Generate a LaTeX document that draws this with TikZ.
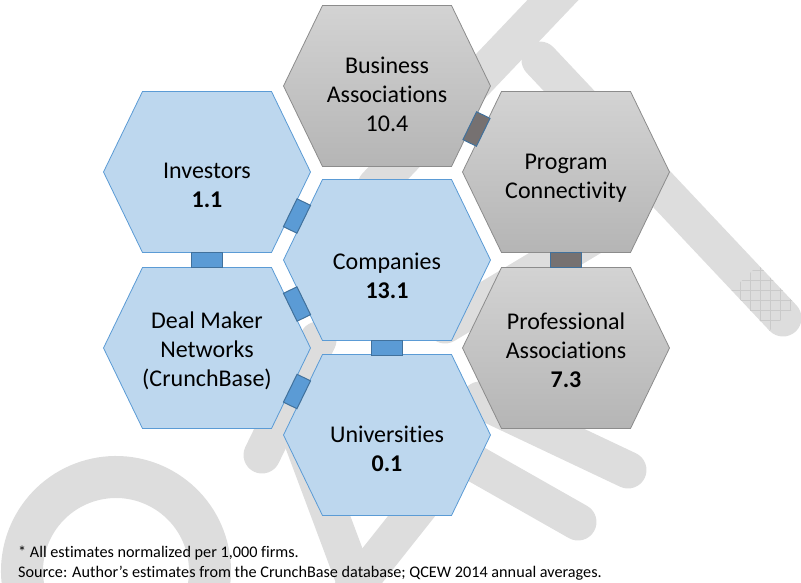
\documentclass[tikz,border=0pt]{standalone}
\usepackage{fontspec}
\setmainfont{Carlito}[Ligatures=NoCommon]
\usetikzlibrary{calc}

\definecolor{hexblue}{HTML}{BDD7EE}
\definecolor{hexblueline}{HTML}{5B9BD5}
\definecolor{linkblue}{HTML}{5B9BD5}
\definecolor{linkline}{HTML}{41719C}
\definecolor{hexgraytop}{HTML}{D3D3D3}
\definecolor{hexgraybot}{HTML}{B5B5B5}
\definecolor{hexgrayline}{HTML}{8C8C8C}
\definecolor{linkgray}{HTML}{767171}
\definecolor{wmark}{HTML}{DDDDDD}
\definecolor{wmgrid}{HTML}{CACACA}

\tikzset{
  wm/.style={draw=wmark, line width=37pt, line cap=round},
  bluehex/.style={fill=hexblue, draw=hexblueline, line width=0.8pt},
  grayhex/.style={top color=hexgraytop, bottom color=hexgraybot, draw=hexgrayline, line width=0.8pt},
  label/.style={align=center, font=\fontsize{24}{29}\selectfont},
  link/.style={draw=linkline, line width=1pt, minimum width=31pt, minimum height=15pt, inner sep=0pt},
}

\begin{document}
\begin{tikzpicture}[x=1pt, y=-1pt]
  \useasboundingbox (0,0) rectangle (801,582);

  % watermark strokes
  \begin{scope}
    \clip (0,0) rectangle (801,582);
    \draw[wm, line width=42pt, line cap=butt] (116,571) ++(165:94) arc[start angle=165, end angle=375, radius=94];
    \draw[wm] (572,-20) -- (376,186);
    \draw[wm] (540,60) -- (783,318);
    \draw[wm] (600,232) -- (445,325);
    \draw[wm] (318,340) -- (262,455);
    \draw[wm] (291,410) -- (362,600);
    \draw[wm] (345,600) -- (460,455);
    \draw[wm] (480,400) -- (628,470);
    \draw[wm] (460,455) -- (578,522);
    % hatched end of the long stroke
    \begin{scope}
      \clip (758.5,265) -- (796.5,305.3) -- (769.5,330.7) -- (731.5,290.4) -- cycle;
      \foreach \g in {720,730,...,810}
        \draw[wmgrid, line width=0.5pt] (\g,250) -- (\g,340);
      \foreach \g in {250,260,...,340}
        \draw[wmgrid, line width=0.5pt] (720,\g) -- (810,\g);
    \end{scope}
  \end{scope}

  % hexagons
  \foreach \name/\x/\y/\kind in {inv/207/172/bluehex, deal/207/348/bluehex,
      bus/387/86/grayhex, com/387/260/bluehex, uni/387/435/bluehex,
      prog/566/172/grayhex, prof/566/348/grayhex} {
    \draw[\kind, shift={(\x,\y)}] (-103.5,0) -- (-64.5,-80.5) -- (64.5,-80.5)
      -- (103.5,0) -- (64.5,80.5) -- (-64.5,80.5) -- cycle;
    \coordinate (\name) at (\x,\y);
  }

  % labels
  \node[label] (invlab) at ($(inv)+(0,13)$) {Investors\\\textbf{1.1}};
  \node[label] (deallab) at ($(deal)+(0,3)$) {Deal Maker\\Networks\\(CrunchBase)};
  \node[label] (buslab) at ($(bus)+(0,8)$) {Business\\Associations\\10.4};
  \node[label] (comlab) at ($(com)+(0,16)$) {Companies\\\textbf{13.1}};
  \node[label] (unilab) at ($(uni)+(0,14)$) {Universities\\\textbf{0.1}};
  \node[label] (proglab) at ($(prog)+(0,6)$) {Program\\Connectivity};
  \node[label] (proflab) at ($(prof)+(0,2)$) {Professional\\Associations\\\textbf{7.3}};

  % links between neighbours
  \node[link, fill=linkblue] (l1) at ($(inv)!.5!(deal)$) {};
  \node[link, fill=linkblue, rotate=64] (l2) at ($(inv)!.5!(com)$) {};
  \node[link, fill=linkblue, rotate=-64] (l3) at ($(deal)!.5!(com)$) {};
  \node[link, fill=linkblue, rotate=64] (l4) at ($(deal)!.5!(uni)$) {};
  \node[link, fill=linkblue] (l5) at ($(com)!.5!(uni)$) {};
  \node[link, fill=linkgray, rotate=64] (l6) at ($(bus)!.5!(prog)$) {};
  \node[link, fill=linkgray] (l7) at ($(prog)!.5!(prof)$) {};

  % footnote
  \node[anchor=base west, align=left, font=\fontsize{16.2}{20}\selectfont, inner sep=0pt]
    (note) at (18,577) {* All estimates normalized per 1,000 firms.\\
    Source: Author’s estimates from the CrunchBase database; QCEW 2014 annual averages.};
\end{tikzpicture}
\end{document}
